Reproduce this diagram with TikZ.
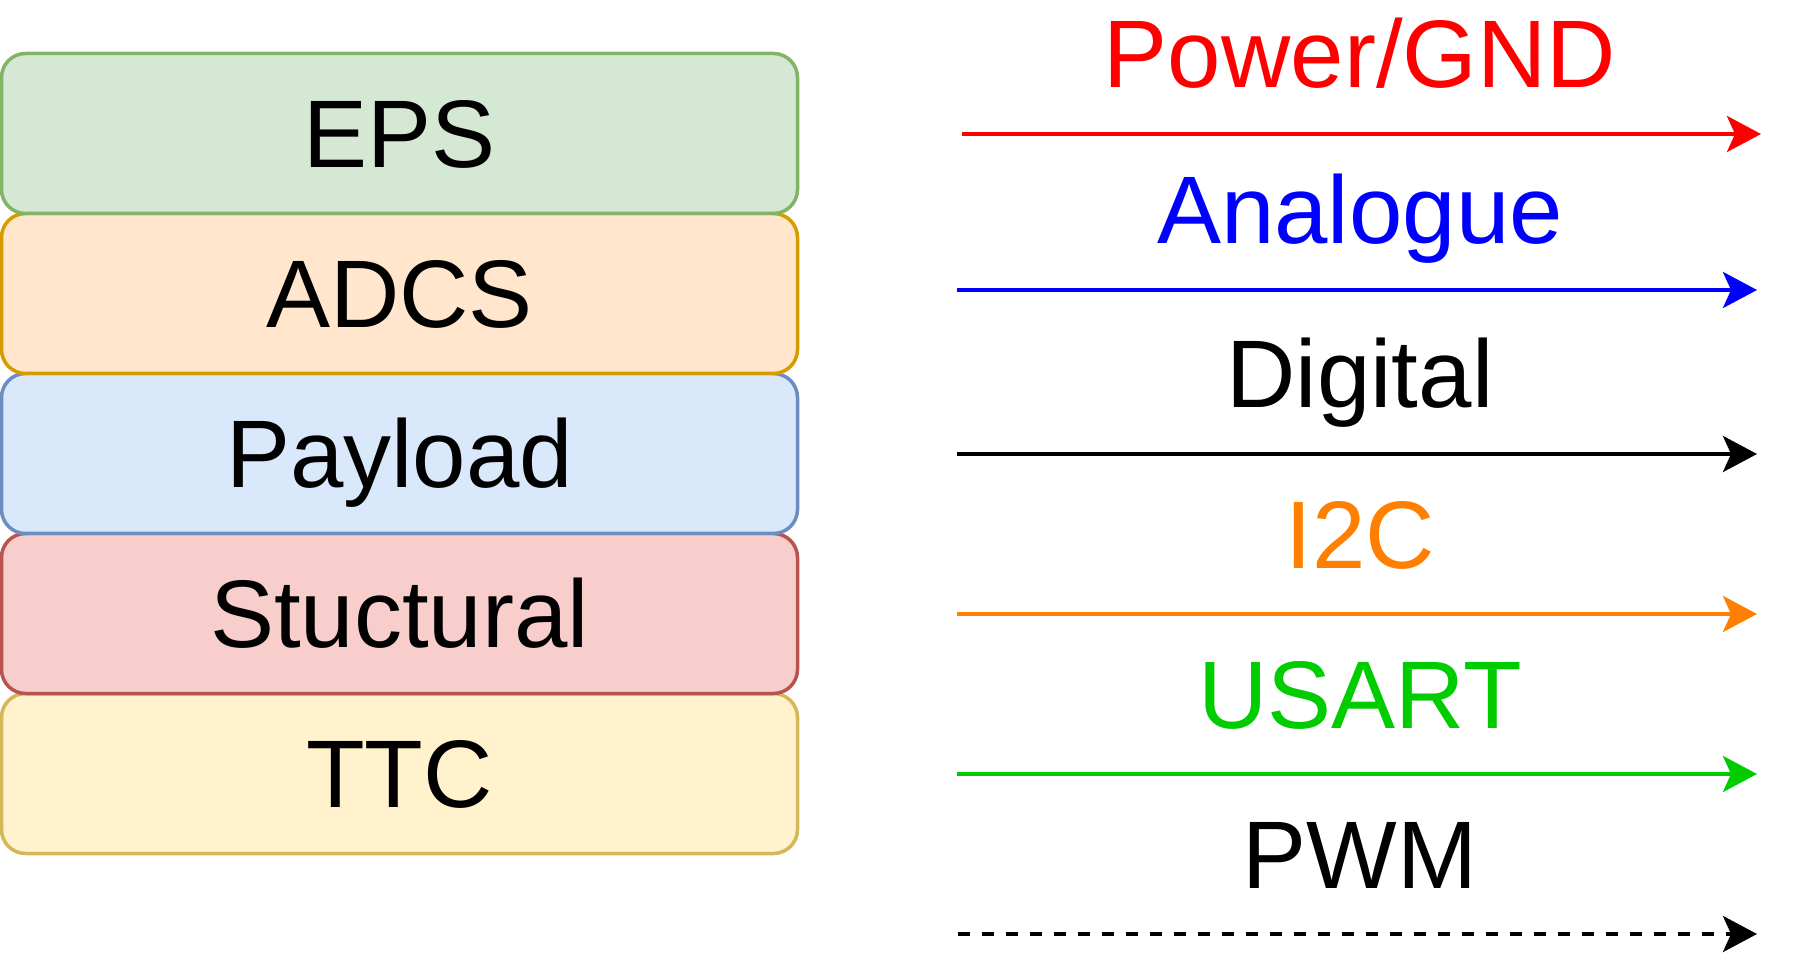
\documentclass[tikz,border=0pt]{standalone}
\usepackage{fontspec}
\setmainfont{Liberation Sans}
\usetikzlibrary{arrows.meta}

% subsystem layer colours (fill / stroke)
\definecolor{epsfill}{HTML}{D5E8D4}\definecolor{epsdraw}{HTML}{82B366}
\definecolor{adcsfill}{HTML}{FFE6CC}\definecolor{adcsdraw}{HTML}{D79B00}
\definecolor{payfill}{HTML}{DAE8FC}\definecolor{paydraw}{HTML}{6C8EBF}
\definecolor{strfill}{HTML}{F8CECC}\definecolor{strdraw}{HTML}{B85450}
\definecolor{ttcfill}{HTML}{FFF2CC}\definecolor{ttcdraw}{HTML}{D6B656}
% signal colours
\definecolor{sigred}{HTML}{FF0000}
\definecolor{sigblue}{HTML}{0000FF}
\definecolor{sigorange}{HTML}{FF8000}
\definecolor{siggreen}{HTML}{00CC00}

\begin{document}
\begin{tikzpicture}[x=0.5pt,y=-0.5pt,
  bigtext/.style={font=\fontsize{48pt}{58pt}\selectfont},
  layer/.style={bigtext, draw, rounded corners=12pt, line width=1.75pt,
    minimum width=398pt, minimum height=80pt, inner sep=0pt,
    text height=34.4pt, text depth=0pt},
  sig/.style={line width=2pt, -{Stealth[length=17pt,width=18pt,inset=4pt]}},
  siglabel/.style={bigtext, anchor=base, inner sep=0pt}]
\useasboundingbox (0,0) rectangle (1796,968);

% stacked subsystem layers
\node[layer, fill=ttcfill, draw=ttcdraw] (ttc) at (399.5,773.5) {TTC};
\node[layer, fill=strfill, draw=strdraw] (str) at (399.5,613.5) {Stuctural};
\node[layer, fill=payfill, draw=paydraw] (pay) at (399.5,453.5) {Payload};
\node[layer, fill=adcsfill, draw=adcsdraw] (adcs) at (399.5,293.5) {ADCS};
\node[layer, fill=epsfill, draw=epsdraw] (eps) at (399.5,133.5) {EPS};

% legend: signal types
\node[siglabel, text=sigred] (lpow) at (1360,88) {Power/GND};
\coordinate (pow0) at (962,134); \coordinate (pow1) at (1761,134);
\draw[sig, sigred] (pow0) -- (pow1);

\node[siglabel, text=sigblue] (lana) at (1360,244) {Analogue};
\coordinate (ana0) at (957,290); \coordinate (ana1) at (1757,290);
\draw[sig, sigblue] (ana0) -- (ana1);

\node[siglabel] (ldig) at (1360,408) {Digital};
\coordinate (dig0) at (957,454); \coordinate (dig1) at (1757,454);
\draw[sig, black] (dig0) -- (dig1);

\node[siglabel, text=sigorange] (li2c) at (1360,568) {I2C};
\coordinate (i2c0) at (957,614); \coordinate (i2c1) at (1757,614);
\draw[sig, sigorange] (i2c0) -- (i2c1);

\node[siglabel, text=siggreen] (lusart) at (1360,728) {USART};
\coordinate (usart0) at (957,774); \coordinate (usart1) at (1757,774);
\draw[sig, siggreen] (usart0) -- (usart1);

\node[siglabel] (lpwm) at (1360,888) {PWM};
\coordinate (pwm0) at (958,934); \coordinate (pwm1) at (1757,934);
\draw[sig, black, dash pattern=on 6pt off 6pt] (pwm0) -- (pwm1);
\end{tikzpicture}
\end{document}
